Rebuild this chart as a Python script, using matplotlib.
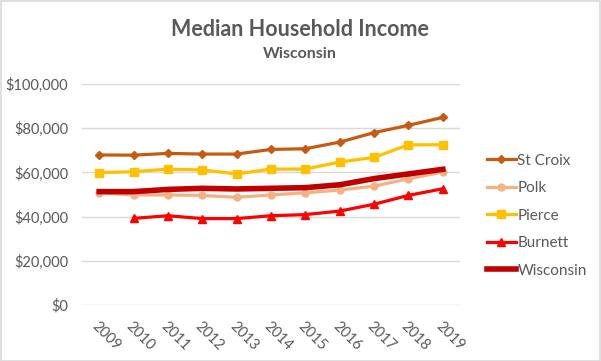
import matplotlib.pyplot as plt
import numpy as np
from matplotlib.ticker import FuncFormatter
from matplotlib.patches import Rectangle

plt.rcParams['font.family'] = ['Lato', 'DejaVu Sans']

years = ['2009','2010','2011','2012','2013','2014','2015','2016','2017','2018','2019']
st_croix = [67900, 67800, 68600, 68300, 68300, 70400, 70700, 73700, 78000, 81300, 84900]
polk = [50800, 49800, 49800, 49600, 48700, 49800, 50800, 52000, 53800, 57100, 60200]
pierce = [59900, 60300, 61500, 61100, 59300, 61500, 61500, 64700, 66800, 72500, 72500]
burnett = [np.nan, 39200, 40400, 39100, 39100, 40400, 40900, 42500, 45600, 49600, 52600]
wisconsin = [51300, 51300, 52300, 52800, 52500, 52800, 53100, 54400, 57200, 59300, 61400]

grey = '#595959'
fig = plt.figure(figsize=(6.01, 3.61), dpi=100)
fig.patches.append(Rectangle((0.001, 0.001), 0.997, 0.996, transform=fig.transFigure,
                             fill=False, edgecolor='#D9D9D9', lw=1.2))
ax = fig.add_axes([82/601, 1-305/361, 378/601, 221/361])

x = np.arange(len(years))
ax.plot(x, st_croix, color='#C55A11', lw=2.3, marker='D', ms=4.5, label='St Croix')
ax.plot(x, polk, color='#F4B183', lw=2.3, marker='o', ms=5, label='Polk')
ax.plot(x, pierce, color='#FFC000', lw=2.3, marker='s', ms=6, label='Pierce')
ax.plot(x, burnett, color='#FF0000', lw=2.3, marker='^', ms=6, label='Burnett')
ax.plot(x, wisconsin, color='#C00000', lw=4, label='Wisconsin')

ax.set_xlim(-0.5, len(years) - 0.5)
ax.set_ylim(0, 100000)
ax.set_yticks(np.arange(0, 100001, 20000))
ax.yaxis.set_major_formatter(FuncFormatter(lambda v, p: '${:,.0f}'.format(v)))
ax.set_xticks(x)
ax.set_xticklabels(years, rotation=-45, ha='left', va='top', rotation_mode='anchor')
ax.tick_params(length=0, colors=grey, labelsize=10.5)
ax.tick_params(axis='y', pad=10)
ax.tick_params(axis='x', pad=10)
for s in ax.spines.values():
    s.set_visible(False)
ax.grid(axis='y', color='#D9D9D9', lw=1)
ax.set_axisbelow(True)

fig.text(300/601, 1-29/361, 'Median Household Income', ha='center', va='center',
         fontsize=15.5, color=grey, fontweight='bold')
fig.text(300/601, 1-54/361, 'Wisconsin', ha='center', va='center',
         fontsize=11.5, color=grey, fontweight='bold')

leg = ax.legend(loc='upper left', bbox_to_anchor=(473/601, 1-140/361),
                bbox_transform=fig.transFigure, frameon=False, fontsize=11,
                handlelength=1.9, handletextpad=0.1, labelspacing=0.88)
for t in leg.get_texts():
    t.set_color(grey)

fig.savefig('out.png', dpi=100)
